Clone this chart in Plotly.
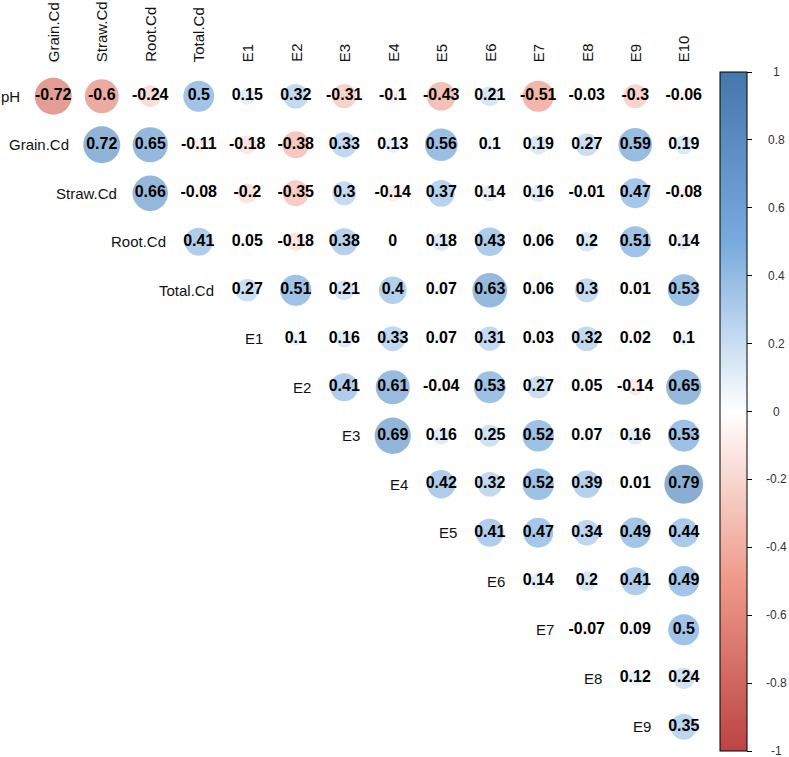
import plotly.graph_objects as go
import math

row_labels = ["pH", "Grain.Cd", "Straw.Cd", "Root.Cd", "Total.Cd", "E1", "E2", "E3",
              "E4", "E5", "E6", "E7", "E8", "E9"]
col_labels = ["Grain.Cd", "Straw.Cd", "Root.Cd", "Total.Cd", "E1", "E2", "E3", "E4",
              "E5", "E6", "E7", "E8", "E9", "E10"]

# upper-triangle correlation values; row i starts at column i
r_pH = [-0.72, -0.6, -0.24, 0.5, 0.15, 0.32, -0.31, -0.1, -0.43, 0.21, -0.51, -0.03, -0.3, -0.06]
r_grain = [0.72, 0.65, -0.11, -0.18, -0.38, 0.33, 0.13, 0.56, 0.1, 0.19, 0.27, 0.59, 0.19]
r_straw = [0.66, -0.08, -0.2, -0.35, 0.3, -0.14, 0.37, 0.14, 0.16, -0.01, 0.47, -0.08]
r_root = [0.41, 0.05, -0.18, 0.38, 0, 0.18, 0.43, 0.06, 0.2, 0.51, 0.14]
r_total = [0.27, 0.51, 0.21, 0.4, 0.07, 0.63, 0.06, 0.3, 0.01, 0.53]
r_E1 = [0.1, 0.16, 0.33, 0.07, 0.31, 0.03, 0.32, 0.02, 0.1]
r_E2 = [0.41, 0.61, -0.04, 0.53, 0.27, 0.05, -0.14, 0.65]
r_E3 = [0.69, 0.16, 0.25, 0.52, 0.07, 0.16, 0.53]
r_E4 = [0.42, 0.32, 0.52, 0.39, 0.01, 0.79]
r_E5 = [0.41, 0.47, 0.34, 0.49, 0.44]
r_E6 = [0.14, 0.2, 0.41, 0.49]
r_E7 = [-0.07, 0.09, 0.5]
r_E8 = [0.12, 0.24]
r_E9 = [0.35]

rows = [r_pH, r_grain, r_straw, r_root, r_total, r_E1, r_E2, r_E3, r_E4, r_E5,
        r_E6, r_E7, r_E8, r_E9]

cb_ticks = [1, 0.8, 0.6, 0.4, 0.2, 0, -0.2, -0.4, -0.6, -0.8, -1]

W, H = 789, 757
L, T, B = 28.75, 71.75, 5.75
R = W - 708.25
pw = W - L - R
ph = H - T - B
n = len(col_labels)
cell = pw / n

xs, ys, vals, sizes, texts = [], [], [], [], []
for i, row in enumerate(rows):
    for k, v in enumerate(row):
        j = i + k
        xs.append(j)
        ys.append(i)
        vals.append(v)
        sizes.append(max(0.9 * math.sqrt(abs(v)) * cell, 0.1))
        texts.append(f"{v:g}")

colorscale = [[0.0, "#BB4444"], [0.25, "#EE9988"], [0.5, "#FFFFFF"],
              [0.75, "#77AADD"], [1.0, "#4477AA"]]

fig = go.Figure()
fig.add_trace(go.Scatter(
    x=xs, y=ys, mode="markers",
    marker=dict(size=sizes, sizemode="diameter", color=vals, colorscale=colorscale,
                cmin=-1, cmax=1, line=dict(width=0),
                colorbar=dict(
                    thickness=27, thicknessmode="pixels",
                    len=1, lenmode="fraction",
                    xref="container", x=720 / W, xanchor="left", xpad=0,
                    yref="paper", y=1, yanchor="top", ypad=0,
                    outlinewidth=1, outlinecolor="black",
                    tickvals=cb_ticks, ticks="outside", ticklen=5, tickwidth=1,
                    tickcolor="black", showticklabels=False,
                )),
    hoverinfo="skip", showlegend=False,
))
fig.add_trace(go.Scatter(
    x=xs, y=ys, mode="text", text=texts,
    textfont=dict(family="Liberation Sans, Arial", size=16, color="black", weight="bold"),
    hoverinfo="skip", showlegend=False,
))

annotations = []
for j, lab in enumerate(col_labels):
    annotations.append(dict(
        x=j, y=-0.5, xref="x", yref="y", text=lab, showarrow=False,
        textangle=-90, xanchor="center", yanchor="bottom", yshift=8,
        font=dict(family="Liberation Sans, Arial", size=15, color="#111"),
    ))
for i, lab in enumerate(row_labels):
    annotations.append(dict(
        x=i - 0.5, y=i, xref="x", yref="y", text=lab, showarrow=False,
        xanchor="right", yanchor="middle", xshift=-7,
        font=dict(family="Liberation Sans, Arial", size=15, color="#111"),
    ))
for v in cb_ticks:
    annotations.append(dict(
        x=(777 - L) / pw, y=(v + 1) / 2, xref="paper", yref="paper",
        text=f"{v:g}", showarrow=False, xanchor="center", yanchor="middle",
        font=dict(family="Liberation Sans, Arial", size=12, color="#333"),
    ))

fig.update_layout(
    width=W, height=H,
    margin=dict(l=L, r=R, t=T, b=B, pad=0),
    paper_bgcolor="white", plot_bgcolor="white",
    xaxis=dict(range=[-0.5, n - 0.5], visible=False, fixedrange=True),
    yaxis=dict(range=[len(row_labels) - 0.5, -0.5], visible=False, fixedrange=True),
    annotations=annotations,
)

fig.write_html("out.html", config={"displayModeBar": False},
               post_script="document.body.style.margin='0';")
